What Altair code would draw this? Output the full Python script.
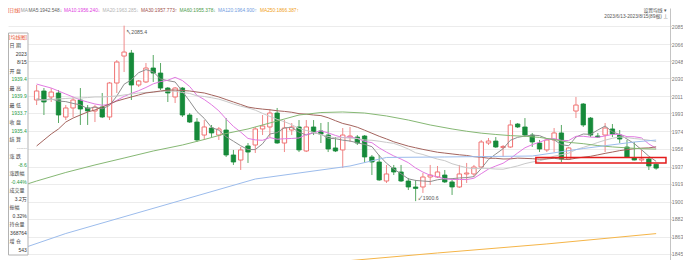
import altair as alt
import pandas as pd

# ---------------- candle data (visible bars, index 0..85) ----------------
opens = [2007.1, 2016.6, 2010.3, 2014.5, 1989.2, 1998.7, 2007.1, 1998.7, 1995.5, 1999.7,
         1989.2, 2025.0, 2053.4, 2056.6, 2022.9, 2026.1, 2040.8, 2035.5, 2019.7, 2010.3,
         2019.7, 1991.3, 1983.9, 1970.2, 1977.6, 1970.2, 1975.5, 1949.2, 1943.9, 1958.7,
         1959.7, 1976.6, 1978.7, 1993.4, 1961.8, 1975.5, 1978.7, 1953.4, 1978.7, 1974.5,
         1970.2, 1956.6, 1954.5, 1968.1, 1968.1, 1969.2, 1947.1, 1941.8, 1921.8, 1935.5,
         1931.3, 1921.8, 1915.5, 1915.5, 1926.0, 1926.0, 1928.1, 1920.8, 1915.5, 1929.2,
         1929.2, 1936.5, 1961.8, 1963.9, 1957.0, 1957.6, 1981.8, 1978.7, 1970.2, 1961.8,
         1954.5, 1965.0, 1972.4, 1945.0, 1995.5, 2002.9, 1988.1, 1969.2, 1970.2, 1976.6,
         1970.2, 1957.6, 1946.0, 1943.9, 1945.0, 1939.4]
highs = [2022.9, 2019.7, 2019.7, 2017.6, 2001.8, 2010.3, 2019.7, 2001.8, 2001.8, 2014.5,
         2026.1, 2049.2, 2085.4, 2059.8, 2028.2, 2046.1, 2054.5, 2046.1, 2020.8, 2020.8,
         2020.8, 1993.4, 1988.1, 1986.0, 1980.8, 1978.7, 1988.1, 1954.5, 1957.6, 1961.8,
         1978.7, 1991.3, 1997.6, 1998.7, 1986.0, 1982.9, 1986.0, 1986.0, 1986.0, 1982.9,
         1983.9, 1968.1, 1977.6, 1978.7, 1970.2, 1970.2, 1949.2, 1949.2, 1938.7, 1938.7,
         1938.7, 1925.0, 1922.9, 1930.2, 1938.7, 1937.6, 1933.4, 1922.9, 1938.7, 1940.8,
         1938.7, 1965.0, 1967.1, 1968.1, 1959.7, 1986.0, 1982.9, 1988.1, 1972.4, 1965.0,
         1967.1, 1977.6, 1980.8, 1957.6, 2010.3, 2003.9, 1989.2, 1972.4, 1982.9, 1981.8,
         1975.5, 1965.0, 1962.9, 1954.5, 1947.1, 1939.9]
lows = [2001.8, 1991.3, 2005.0, 1982.9, 1986.0, 1989.2, 1980.8, 1980.8, 1983.9, 1988.1,
        1986.0, 2014.5, 2036.6, 2007.1, 2020.8, 2025.0, 2026.1, 2017.6, 2005.0, 2003.9,
        1989.2, 1982.9, 1962.9, 1965.0, 1968.1, 1965.0, 1947.1, 1938.7, 1933.4, 1940.8,
        1951.3, 1970.2, 1968.1, 1961.0, 1952.3, 1970.2, 1952.3, 1952.3, 1970.2, 1961.8,
        1952.3, 1952.3, 1935.5, 1962.9, 1959.7, 1940.8, 1928.1, 1922.0, 1919.7, 1928.1,
        1920.8, 1912.3, 1900.6, 1909.2, 1917.6, 1925.0, 1919.7, 1907.1, 1914.4, 1919.7,
        1926.0, 1935.5, 1959.7, 1956.6, 1947.1, 1956.6, 1977.6, 1968.1, 1957.6, 1952.3,
        1952.3, 1952.3, 1941.8, 1943.9, 1988.1, 1978.7, 1968.1, 1967.1, 1952.3, 1968.1,
        1961.8, 1946.0, 1943.5, 1941.8, 1933.4, 1933.7]
closes = [2016.6, 2005.0, 2015.5, 1991.3, 1998.7, 2007.1, 1997.6, 1995.5, 1999.7, 1989.2,
          2025.0, 2047.1, 2057.6, 2022.9, 2027.1, 2040.8, 2035.5, 2019.7, 2014.5, 2019.7,
          1991.3, 1983.9, 1965.0, 1978.7, 1972.4, 1976.6, 1949.2, 1941.8, 1954.5, 1952.3,
          1976.6, 1979.7, 1993.4, 1961.8, 1977.6, 1978.7, 1954.5, 1978.7, 1973.4, 1971.3,
          1955.5, 1953.4, 1970.2, 1969.2, 1961.8, 1947.1, 1941.8, 1922.9, 1929.2, 1931.3,
          1921.8, 1915.5, 1914.0, 1926.0, 1928.1, 1931.3, 1920.8, 1915.5, 1929.2, 1930.2,
          1936.5, 1962.9, 1963.9, 1957.6, 1958.2, 1980.8, 1978.7, 1970.2, 1962.9, 1955.5,
          1965.0, 1972.4, 1945.0, 1956.6, 2001.8, 1980.8, 1970.2, 1968.1, 1977.6, 1971.3,
          1966.0, 1947.1, 1943.9, 1945.0, 1937.6, 1935.4]

# ---------------- moving averages ----------------
ma5 = [2008.2, 2007.1, 2008.2, 2006.0, 2005.4, 2003.5, 2002.0, 1998.0, 1999.7, 1997.8,
       2001.4, 2011.3, 2023.7, 2028.4, 2035.9, 2039.1, 2036.8, 2029.2, 2027.5, 2026.1,
       2016.2, 2005.8, 1994.9, 1987.7, 1978.2, 1975.3, 1968.4, 1963.7, 1958.9, 1954.9,
       1954.9, 1961.0, 1971.3, 1972.8, 1977.8, 1978.2, 1973.2, 1970.2, 1972.6, 1971.3,
       1966.7, 1966.4, 1964.8, 1963.9, 1962.0, 1960.3, 1958.0, 1948.6, 1940.5, 1934.4,
       1929.4, 1924.1, 1922.4, 1921.8, 1921.2, 1923.1, 1924.1, 1924.3, 1925.0, 1925.4,
       1926.4, 1934.9, 1944.5, 1950.2, 1955.8, 1964.7, 1967.8, 1969.1, 1970.1, 1969.6,
       1966.4, 1965.2, 1960.1, 1958.9, 1968.1, 1971.3, 1970.9, 1975.5, 1979.7, 1973.6,
       1970.7, 1966.0, 1961.2, 1954.7, 1947.9, 1942.5]
ma10 = [2023.9, 2021.8, 2019.7, 2016.6, 2013.4, 2010.3, 2007.1, 2005.0, 2002.9, 2001.6,
        2002.5, 2006.7, 2010.9, 2014.0, 2016.9, 2020.3, 2024.1, 2026.5, 2027.9, 2031.0,
        2027.6, 2021.3, 2012.0, 2007.6, 2002.1, 1995.7, 1987.1, 1979.3, 1973.3, 1966.6,
        1965.1, 1964.7, 1967.5, 1965.8, 1966.3, 1966.6, 1967.1, 1970.8, 1972.7, 1974.6,
        1972.5, 1969.8, 1967.5, 1968.2, 1966.7, 1963.5, 1962.2, 1956.7, 1952.2, 1948.2,
        1944.9, 1941.1, 1935.5, 1931.2, 1927.8, 1926.2, 1924.1, 1923.4, 1923.4, 1923.3,
        1924.7, 1929.5, 1934.4, 1937.6, 1940.5, 1945.5, 1951.3, 1956.8, 1960.1, 1962.7,
        1965.5, 1966.5, 1964.6, 1964.4, 1968.9, 1968.9, 1968.0, 1967.8, 1969.3, 1970.9,
        1971.0, 1968.5, 1968.4, 1967.2, 1960.8, 1956.2]
ma20 = [2007.1, 2007.1, 2007.6, 2008.2, 2008.7, 2009.2, 2009.2, 2009.7, 2010.3, 2010.3,
        2010.8, 2011.3, 2012.4, 2013.4, 2014.5, 2015.0, 2015.5, 2016.0, 2016.6, 2016.3,
        2015.1, 2014.0, 2011.5, 2010.8, 2009.5, 2008.0, 2005.6, 2002.9, 2000.6, 1998.8,
        1996.4, 1993.0, 1989.8, 1986.7, 1984.3, 1981.1, 1977.1, 1975.0, 1973.0, 1970.6,
        1968.8, 1967.2, 1967.5, 1967.0, 1966.5, 1965.0, 1964.7, 1963.7, 1962.5, 1961.4,
        1958.7, 1955.5, 1951.5, 1949.7, 1947.2, 1944.9, 1943.2, 1940.0, 1937.8, 1935.8,
        1934.8, 1935.3, 1935.0, 1934.4, 1934.2, 1935.9, 1937.7, 1940.1, 1941.8, 1943.0,
        1945.2, 1948.0, 1949.5, 1951.1, 1954.8, 1957.2, 1959.7, 1962.4, 1964.8, 1966.8,
        1968.2, 1967.5, 1966.5, 1965.8, 1964.8, 1963.3]
ma30 = [1958.7, 1965.0, 1971.3, 1976.6, 1983.9, 1988.1, 1991.3, 1994.5, 1996.6, 1999.7,
        2002.9, 2006.0, 2008.2, 2010.3, 2012.4, 2014.5, 2015.5, 2016.6, 2017.6, 2017.6,
        2017.1, 2016.6, 2015.5, 2014.5, 2012.4, 2010.3, 2007.6, 2005.0, 2002.4, 1999.7,
        1998.4, 1997.5, 1996.8, 1995.8, 1995.1, 1994.2, 1992.7, 1992.2, 1991.3, 1990.7,
        1988.4, 1985.3, 1982.4, 1980.6, 1978.4, 1975.3, 1972.1, 1968.9, 1966.1, 1963.1,
        1960.8, 1958.5, 1956.8, 1955.1, 1953.6, 1952.1, 1951.2, 1950.3, 1949.4, 1948.7,
        1947.4, 1946.8, 1945.8, 1945.7, 1945.0, 1945.1, 1945.9, 1945.6, 1945.3, 1944.7,
        1945.1, 1945.7, 1944.8, 1944.4, 1945.8, 1946.9, 1947.8, 1949.3, 1950.9, 1952.3,
        1953.8, 1954.8, 1955.8, 1956.4, 1956.7, 1957.8]
ma60_idx = [-3, 0, 4, 8, 12, 16, 20, 23, 26, 29, 31, 33, 36, 39, 42, 45, 48, 51, 54, 57,
            59, 61, 63, 65, 67, 69, 71, 73, 75, 77, 79, 81, 83, 85]
ma60_val = [1914.4, 1921.8, 1930.8, 1938.7, 1946.0, 1953.4, 1959.7, 1965.5, 1971.8, 1976.6,
            1980.8, 1985.0, 1991.3, 1993.9, 1994.5, 1993.4, 1990.3, 1986.0, 1980.8, 1976.6,
            1974.2, 1972.2, 1970.8, 1969.6, 1968.9, 1967.7, 1965.5, 1962.5, 1961.1, 1959.1,
            1957.7, 1956.7, 1955.8, 1955.4]
ma120_idx = [-3, 4, 30, 43, 48, 56, 68, 75, 82, 85]
ma120_val = [1848.1, 1866.5, 1923.9, 1937.6, 1946.6, 1947.1, 1948.1, 1956.0, 1962.9, 1964.9]
ma250_idx = [30, 40, 55, 70, 85]
ma250_val = [1829.7, 1836.0, 1846.0, 1855.5, 1866.4]

ma_names = ["MA250", "MA120", "MA60", "MA30", "MA20", "MA10", "MA5"]
ma_colors = ["#f5b548", "#9cbcec", "#86b874", "#a4645e", "#c9c9c9", "#e27ae2", "#8f8f8f"]

y_ticks = [2085, 2066, 2048, 2030, 2011, 1993, 1974, 1956, 1937, 1919, 1900, 1882, 1863, 1845]

# header line
header_texts = ["[日线]", "MA", "MA5:1942.548↓", "MA10:1956.240↓", "MA20:1963.285↓",
                "MA30:1957.773↑", "MA60:1955.378↓", "MA120:1964.900↑", "MA250:1866.387↑"]
header_colors = ["#e8542f", "#9a9a9a", "#5e5e5e", "#e040e0", "#b4b4b4",
                 "#a0504c", "#4c9a4c", "#6f9be0", "#f0a020"]

# info panel
panel_texts = ["[均线图]", "日 期", "2023", "8/15", "开 盘", "1939.4", "最 高", "1939.9",
               "最 低", "1933.7", "收 盘", "1935.4", "结 算", "------", "涨 跌", "-8.6",
               "涨跌幅", "-0.44%", "成交量", "3.2万", "振幅", "0.32%", "持仓量", "368764",
               "增 仓", "543"]
panel_kinds = ["title", "label", "value", "value", "label", "green", "label", "green",
               "label", "green", "label", "green", "label", "dots", "label", "green",
               "label", "green", "label", "value", "label", "value", "label", "value",
               "label", "value"]

hi_label = (12, 2085.4, "↖2085.4")
lo_label = (52, 1900.6, "↙1900.6")
box = dict(i0=68.5, i1=86.35, v0=1940.8, v1=1946.6)

# ---------------- chart ----------------
FONT = "Liberation Sans, Noto Sans CJK SC, sans-serif"
W, H = 662, 252
XS = alt.Scale(domain=[-3.243, 86.216], nice=False, zero=False)
YS = alt.Scale(domain=[1838.6, 2104.0], nice=False, zero=False)

n = len(opens)
df = pd.DataFrame({"i": list(range(n)), "o": opens, "h": highs, "l": lows, "c": closes})
df["dir"] = ["up" if c >= o else "down" for o, c in zip(opens, closes)]
df["wc"] = ["#f08a8a" if d == "up" else "#58a863" for d in df["dir"]]

rows = []
for name, vals in [("MA5", ma5), ("MA10", ma10), ("MA20", ma20), ("MA30", ma30)]:
    rows += [{"ma": name, "i": k, "v": v} for k, v in enumerate(vals)]
for name, ids, vals in [("MA60", ma60_idx, ma60_val), ("MA120", ma120_idx, ma120_val),
                        ("MA250", ma250_idx, ma250_val)]:
    rows += [{"ma": name, "i": k, "v": v} for k, v in zip(ids, vals)]
ma_df = pd.DataFrame(rows)
cmap = dict(zip(ma_names, ma_colors))
ma_df["col"] = ma_df["ma"].map(cmap)

x_enc = alt.X("i:Q", scale=XS, axis=None)
yaxis = alt.Axis(orient="right", values=y_ticks, format="d", labelFontSize=5.2, labelFont=FONT,
                 labelColor="#7a7a7a", tickSize=1, tickColor="#bdbdbd", domainColor="#c4c4c4",
                 grid=True, gridColor="#ececec", title=None, labelPadding=0.3,
                 labelFlush=False, labelOverlap=False, labelBaseline="middle")


def yq(field):
    return alt.Y(field, scale=YS, axis=yaxis, title=None)


base = alt.Chart(df)
wicks = base.mark_rule(strokeWidth=1).encode(
    x=x_enc, y=yq("l:Q"), y2="h:Q", color=alt.Color("wc:N", scale=None, legend=None))
up_bodies = base.transform_filter("datum.dir == 'up'").mark_bar(
    size=4.4, fill="white", stroke="#f07272", strokeWidth=1).encode(
    x=x_enc, y=yq("o:Q"), y2="c:Q")
dn_bodies = base.transform_filter("datum.dir == 'down'").mark_bar(
    size=4.4, fill="#168a3a", stroke="#168a3a", strokeWidth=0.8).encode(
    x=x_enc, y=yq("o:Q"), y2="c:Q")

lines = alt.Chart(ma_df).mark_line(strokeWidth=1, clip=True).encode(
    x=x_enc,
    y=yq("v:Q"),
    detail="ma:N",
    color=alt.Color("col:N", scale=None, legend=None),
    order=alt.Order("i:Q"),
)

box_df = pd.DataFrame([box])
red_box = alt.Chart(box_df).mark_rect(fillOpacity=0, stroke="#e41b1b", strokeWidth=1.5).encode(
    x=alt.X("i0:Q", scale=XS, axis=None), x2="i1:Q", y=yq("v0:Q"), y2="v1:Q")

hl_df = pd.DataFrame([{"i": hi_label[0], "v": hi_label[1], "t": hi_label[2]}])
ll_df = pd.DataFrame([{"i": lo_label[0], "v": lo_label[1], "t": lo_label[2]}])
hi_txt = alt.Chart(hl_df).mark_text(align="left", baseline="middle", dx=2, dy=6, fontSize=5.2,
                                    font=FONT, color="#555").encode(
    x=x_enc, y=yq("v:Q"), text="t:N")
lo_txt = alt.Chart(ll_df).mark_text(align="left", baseline="middle", dx=2, dy=-3, fontSize=5.2,
                                    font=FONT, color="#555").encode(
    x=x_enc, y=yq("v:Q"), text="t:N")

# panel
panel_bg = alt.Chart(pd.DataFrame({"a": [0]})).mark_rect(fill="white", stroke="#b3b3b3",
                                                         strokeWidth=1).encode(
    x=alt.value(0.5), x2=alt.value(20), y=alt.value(25), y2=alt.value(247))
kind_color = {"title": "#e8542f", "label": "#444444", "value": "#333333", "green": "#1f9a45",
              "dots": "#999999"}
kind_x = {"title": 10, "label": 1.5, "value": 18.8, "green": 18.8, "dots": 18.8}
kind_align = {"title": "center", "label": "left", "value": "right", "green": "right",
              "dots": "right"}
p_rows = []
for k, (t, kd) in enumerate(zip(panel_texts, panel_kinds)):
    p_rows.append({"t": t, "col": kind_color[kd], "px": kind_x[kd], "py": 28.7 + 8.53 * k,
                   "al": kind_align[kd]})
p_df = pd.DataFrame(p_rows)
panel_layers = []
for al in ["left", "right", "center"]:
    panel_layers.append(
        alt.Chart(p_df).transform_filter(f"datum.al == '{al}'").mark_text(
            align=al, baseline="middle", fontSize=5, font=FONT).encode(
            x=alt.X("px:Q", scale=None, axis=None), y=alt.Y("py:Q", scale=None, axis=None),
            text="t:N", color=alt.Color("col:N", scale=None, legend=None)))

# header row
header_px = [0, 12.8, 20.5, 56, 94.5, 133, 171.5, 210, 252]
h_df = pd.DataFrame({"t": header_texts, "col": header_colors, "px": header_px})
header = alt.Chart(h_df).mark_text(align="left", baseline="middle", fontSize=4.8,
                                   font=FONT).encode(
    x=alt.X("px:Q", scale=None, axis=None), y=alt.value(3.4), text="t:N",
    color=alt.Color("col:N", scale=None, legend=None))

tr_df = pd.DataFrame({"t": ["设置均线 ▾", "2023/6/13-2023/8/15(89根) ⊥"], "px": [659, 660],
                      "py": [3.4, 9.0]})
top_right = alt.Chart(tr_df).mark_text(align="right", baseline="middle", fontSize=4.8,
                                       font=FONT, color="#555").encode(
    x=alt.X("px:Q", scale=None, axis=None), y=alt.Y("py:Q", scale=None, axis=None), text="t:N")

chart = alt.layer(
    wicks, up_bodies, dn_bodies, lines, red_box, hi_txt, lo_txt,
    panel_bg, *panel_layers, header, top_right
).properties(
    width=W, height=H,
    padding={"left": 0, "top": 0, "right": 13, "bottom": 0},
    autosize=alt.AutoSizeParams(type="none"),
    background="white",
).configure_view(stroke=None)

chart.save("out.html", embed_options={"renderer": "svg", "actions": False})
